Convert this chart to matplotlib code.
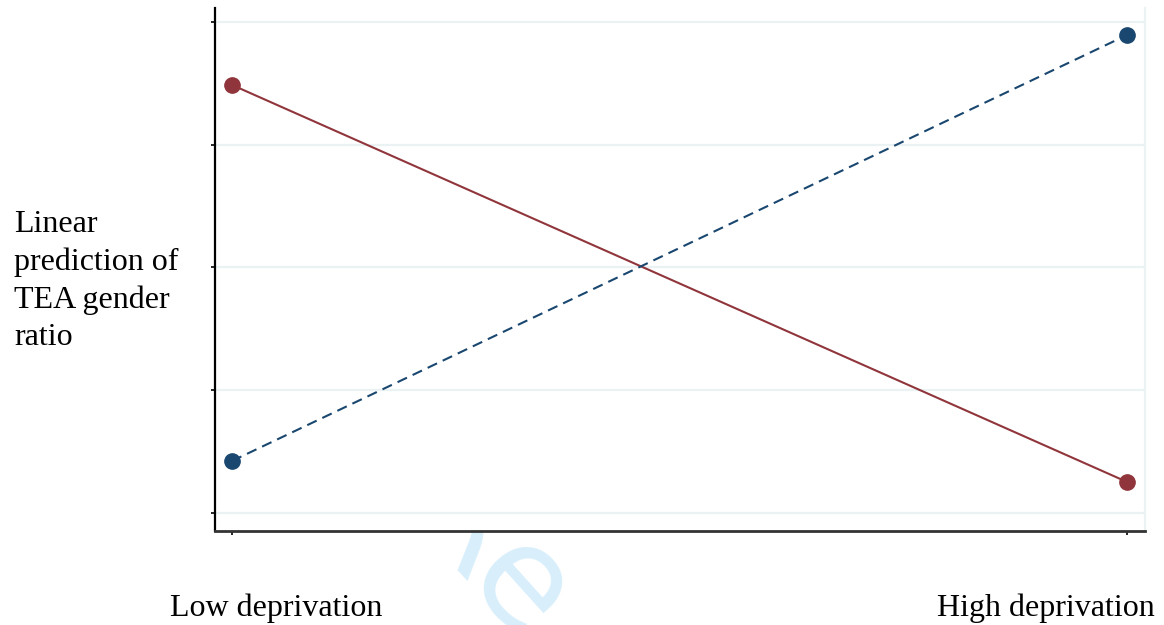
import matplotlib
matplotlib.use("Agg")
import matplotlib.pyplot as plt

# Deprivation levels on the x axis
categories = ["Low deprivation", "High deprivation"]
x_pos = [0, 1]

# Linear predictions of the TEA gender ratio for the two groups
red_series = [3.487, 0.253]
blue_series = [0.424, 3.894]

y_ticks = [0, 1, 2, 3, 4]

RED = "#90353b"
BLUE = "#1a476f"
GRID = "#eaf2f3"

fig = plt.figure(figsize=(11.64, 6.25), dpi=100)
ax = fig.add_axes([0.1847, 0.1504, 0.7990, 0.8368])
ax.set_facecolor("white")

ax.set_xlim(-0.019, 1.0201)
ax.set_ylim(-0.1466, 4.114)

ax.set_yticks(y_ticks)
ax.set_yticklabels([])
ax.set_xticks(x_pos)
ax.set_xticklabels([])
ax.tick_params(axis="both", direction="out", length=3, width=1.2, color="black")
ax.yaxis.grid(True, color=GRID, linewidth=1.6)
ax.set_axisbelow(True)

ax.plot(x_pos, red_series, color=RED, linewidth=1.5, marker="o",
        markersize=11, zorder=3)
ax.plot(x_pos, blue_series, color=BLUE, linewidth=1.5, linestyle=(0, (5, 3)),
        marker="o", markersize=11, zorder=3)

ax.spines["top"].set_visible(False)
ax.spines["right"].set_color(GRID)
ax.spines["right"].set_linewidth(1.6)
ax.spines["left"].set_color("black")
ax.spines["left"].set_linewidth(1.6)
ax.spines["bottom"].set_color("#333333")
ax.spines["bottom"].set_linewidth(2.0)

serif = "Liberation Serif"
fig.text(14 / 1164, 1 - 281 / 625, "Linear\nprediction of\nTEA gender\nratio",
         family=serif, fontsize=23, ha="left", va="center", linespacing=1.37)

fig.text(276 / 1164, 1 - 608 / 625, categories[0], family=serif, fontsize=23,
         ha="center", va="center")
fig.text(1046 / 1164, 1 - 608 / 625, categories[1], family=serif, fontsize=23,
         ha="center", va="center")

# faint review watermark, sitting behind the plot area
fig.text(400 / 1164, 1 - 522 / 625, "Re", family="DejaVu Sans", fontsize=100,
         color="#d8effb", rotation=-48, rotation_mode="anchor",
         ha="left", va="baseline", zorder=-1)

fig.savefig("out.png", dpi=100)
